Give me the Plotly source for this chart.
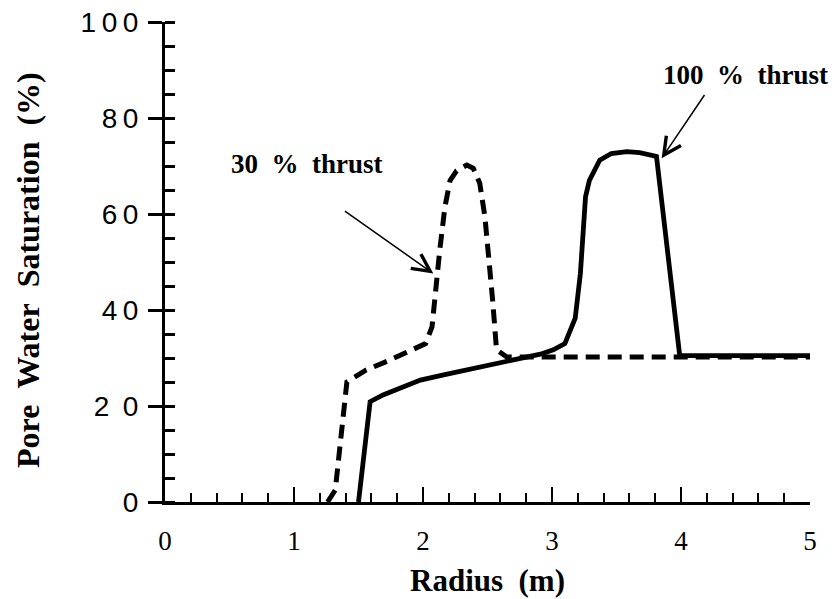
import plotly.graph_objects as go

# 30 % thrust (dashed)
r_30 = [1.26, 1.32, 1.41, 1.56, 1.72, 1.90, 2.02, 2.07, 2.10, 2.13, 2.17, 2.21, 2.26, 2.34,
        2.39, 2.44, 2.48, 2.52, 2.54, 2.57, 2.65, 3.0, 3.5, 4.0, 4.5, 5.0]
s_30 = [0.0, 2.5, 25.0, 27.5, 29.3, 31.5, 33.0, 36.5, 45.6, 52.5, 61.5, 67.0, 69.0, 70.2,
        69.5, 66.4, 59.4, 49.0, 42.0, 31.7, 30.2, 30.2, 30.2, 30.2, 30.2, 30.2]

# 100 % thrust (solid)
r_100 = [1.50, 1.59, 1.69, 1.82, 1.98, 2.16, 2.39, 2.60, 2.91, 3.01, 3.10, 3.18, 3.22, 3.26,
         3.29, 3.37, 3.46, 3.58, 3.68, 3.81, 3.99, 4.5, 5.0]
s_100 = [0.0, 20.9, 22.3, 23.7, 25.4, 26.5, 27.8, 28.9, 30.8, 31.7, 33.0, 38.3, 47.6, 63.6,
         67.0, 71.2, 72.6, 73.0, 72.8, 72.0, 30.5, 30.5, 30.5]

x_ticks = [0, 1, 2, 3, 4, 5]
x_ticktext = ["0", "1", "2", "3", "4", "5"]
y_ticks = [0, 20, 40, 60, 80, 100]
y_ticktext = ["0", "2\u00a0\u20090", "4\u20090", "6\u20090", "8\u20090", "1\u20090\u20090"]

fig = go.Figure()
fig.add_trace(go.Scatter(x=r_30, y=s_30, mode="lines",
                         line=dict(color="black", width=5, dash="14px,8px"),
                         showlegend=False))
fig.add_trace(go.Scatter(x=r_100, y=s_100, mode="lines",
                         line=dict(color="black", width=4.8),
                         showlegend=False))

serif = "Liberation Serif, Times New Roman, serif"

fig.update_layout(
    width=832, height=591,
    margin=dict(l=157, r=30, t=14, b=97, autoexpand=False),
    paper_bgcolor="white", plot_bgcolor="white",
    xaxis=dict(range=[0, 5], tickvals=x_ticks, ticktext=x_ticktext,
               ticks="inside", ticklen=15, tickwidth=2, tickcolor="black",
               showline=True, linewidth=3, linecolor="black",
               showgrid=False, zeroline=False, automargin=False,
               minor=dict(dtick=0.2, tick0=0, ticks="inside", ticklen=9,
                          tickwidth=2, tickcolor="black", showgrid=False),
               tickfont=dict(family=serif, size=27, color="black"),
               ticklabelstandoff=13, ticklabeloverflow="allow"),
    yaxis=dict(range=[0, 100], tickvals=y_ticks, ticktext=y_ticktext,
               ticks="outside", ticklen=14, tickwidth=2.5, tickcolor="black",
               showline=True, linewidth=3, linecolor="black",
               showgrid=False, zeroline=False, automargin=False,
               minor=dict(dtick=5, tick0=0, ticks="inside", ticklen=10,
                          tickwidth=2.5, tickcolor="black", showgrid=False),
               tickfont=dict(family="Liberation Sans, Arial, sans-serif", size=28, color="black"),
               ticklabelstandoff=4, ticklabeloverflow="allow"),
)

ann_font = dict(family=serif, size=27, color="black", weight="bold")

fig.add_annotation(x=1.098, y=70.4, xref="x", yref="y", text="30\u00a0\u00a0%\u00a0\u00a0thrust",
                   showarrow=False, font=ann_font, xanchor="center", yanchor="middle")
fig.add_annotation(x=4.50, y=89.0, xref="x", yref="y", text="100\u00a0\u00a0%\u00a0\u00a0thrust",
                   showarrow=False, font=ann_font, xanchor="center", yanchor="middle")

fig.add_annotation(x=2.08, y=47.6, ax=1.383, ay=60.8, xref="x", yref="y", axref="x", ayref="y",
                   text="", showarrow=True, arrowhead=5, arrowsize=2.3, arrowwidth=1.5,
                   arrowcolor="black")
fig.add_annotation(x=3.85, y=71.6, ax=4.19, ay=85.1, xref="x", yref="y", axref="x", ayref="y",
                   text="", showarrow=True, arrowhead=5, arrowsize=2.3, arrowwidth=1.5,
                   arrowcolor="black")

fig.add_annotation(x=0.5, y=(502 - 580) / 480, xref="paper", yref="paper",
                   text="Radius\u00a0\u00a0(m)", showarrow=False,
                   font=dict(family=serif, size=31, color="black", weight="bold"),
                   xanchor="center", yanchor="middle")
fig.add_annotation(x=(28 - 165) / 645, y=(502 - 270) / 480, xref="paper", yref="paper",
                   text="Pore\u00a0\u00a0Water\u00a0\u00a0Saturation\u00a0\u00a0(%)", showarrow=False,
                   textangle=-90,
                   font=dict(family=serif, size=32, color="black", weight="bold"),
                   xanchor="center", yanchor="middle")

fig.write_html("out.html")
